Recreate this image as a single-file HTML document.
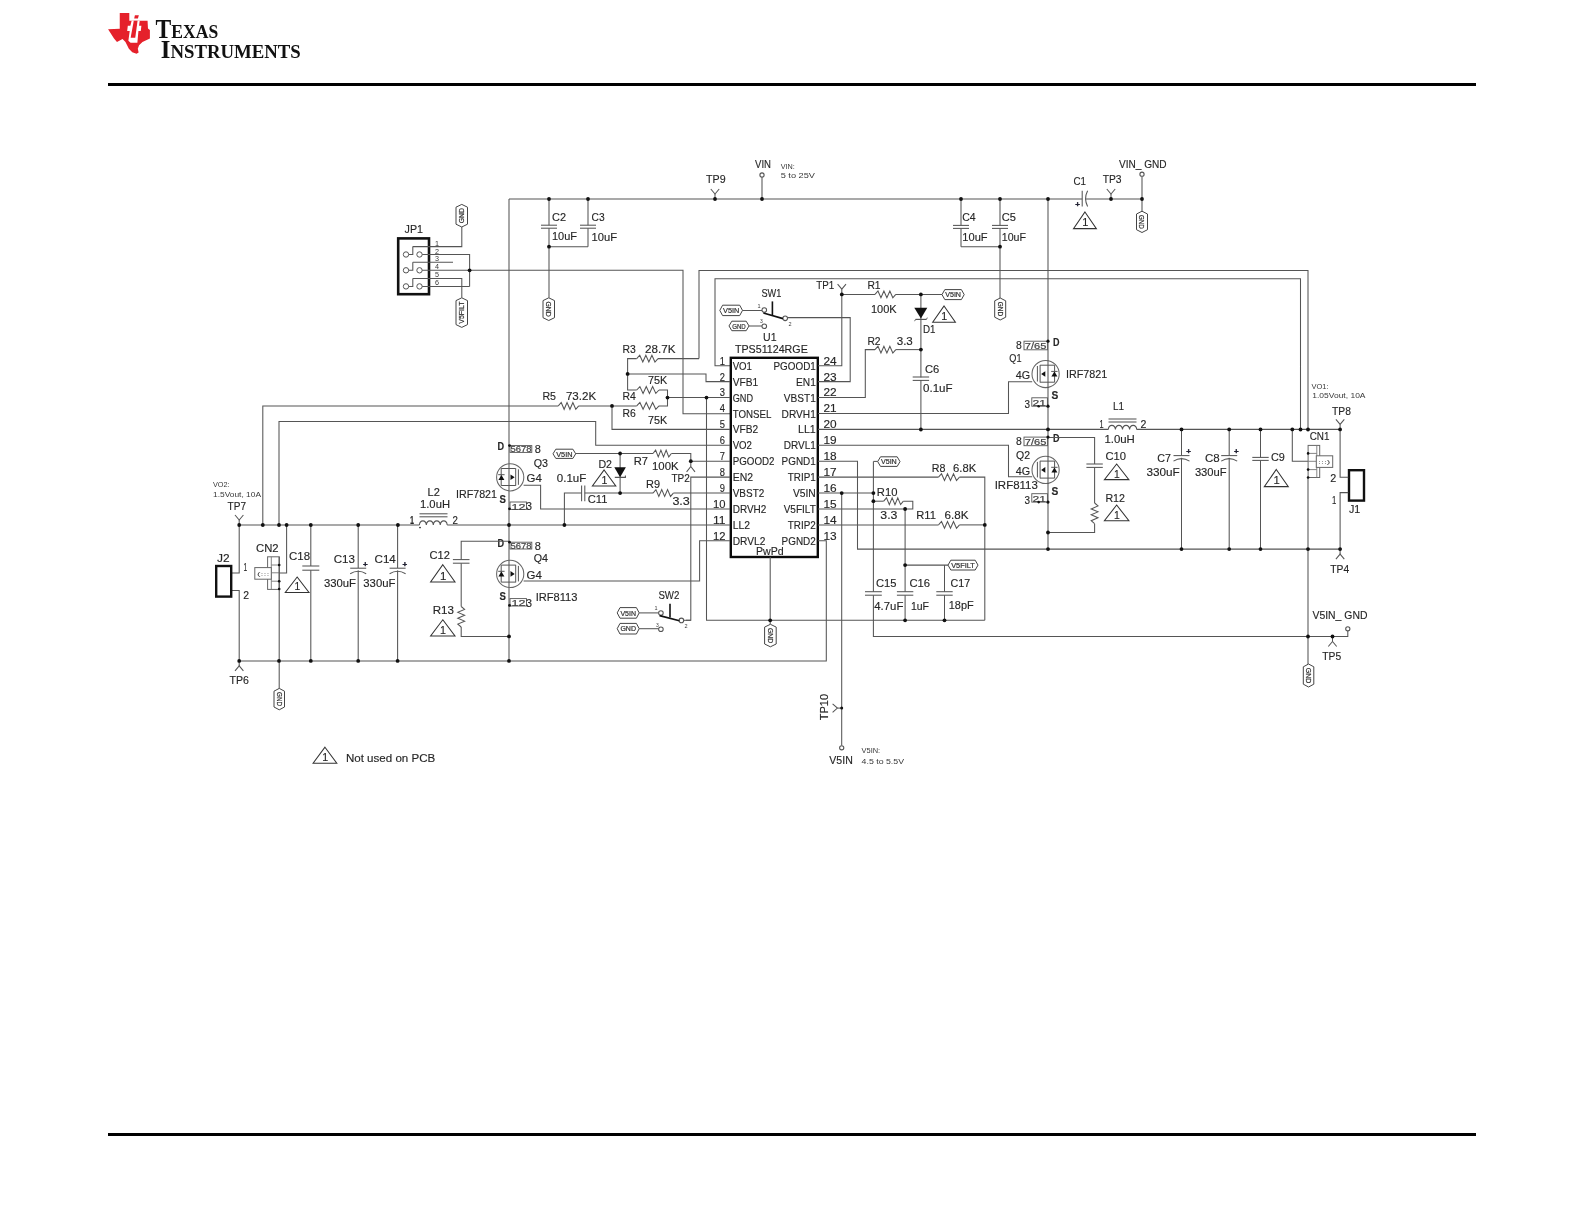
<!DOCTYPE html>
<html><head><meta charset="utf-8"><title>Schematic</title><style>
html,body{margin:0;padding:0;background:#fff;}
body{width:1585px;height:1225px;overflow:hidden;position:relative;}
svg{position:absolute;left:0;top:0;will-change:transform;}
.w polyline,.w path,.w circle,.w rect,.w line{stroke:#555555;stroke-width:1.05;fill:none;stroke-linejoin:miter;stroke-linecap:butt;}
.w circle.d{fill:#111;stroke:none;}
.w path.f{fill:#111;stroke:none;}
.w path.hx{stroke:#444;stroke-width:1;fill:#fff;stroke-linejoin:round;}
.w path.tr{stroke:#333;stroke-width:1.05;fill:none;}
text{font-family:"Liberation Sans",sans-serif;fill:#262626;stroke:none;}
text.t{font-family:"Liberation Sans",sans-serif;stroke:#262626;stroke-width:0.14;}
text.s{font-family:"Liberation Sans",sans-serif;fill:#383838;}
text.hxt{fill:#333;stroke:#333;stroke-width:0.22;}
text.pb{fill:#444;stroke:#444;stroke-width:0.2;}
text.pl{font-size:8px;font-weight:bold;fill:#223;stroke:#223;stroke-width:0.4;}
text.ti{font-family:"Liberation Serif",serif;font-weight:bold;fill:#111;}
</style></head>
<body><svg width="1585" height="1225" viewBox="0 0 1585 1225">
<rect x="108" y="83" width="1368" height="3" fill="#000"/>
<rect x="108" y="1133" width="1368" height="3" fill="#000"/>
<path d="M119.75,13.1 L129.3,13.1 L129.3,20.74 L147.56,20.74 L147.98,28.38 L149.89,30.08 L149.89,38.57 L142.46,41.97 L139.07,45.37 L137.79,48.76 L138.64,52.59 L136.52,53.86 L132.27,52.16 L128.87,48.76 L125.48,41.97 L122.51,39 L116.99,41.97 L114.01,38.57 L108.07,29.23 L119.75,28.81 Z" fill="#e5212b" stroke="none"/>
<path d="M131.63,20.74 L139.7,20.74 L139.07,25.83 L141.4,25.83 L140.76,30.93 L138.43,30.93 L137.37,42.82 L130.57,42.82 L128.37,40.7 L129.72,30.93 L127.18,30.93 L127.81,25.83 L130.36,25.83 Z" fill="#fff" stroke="none"/>
<path d="M133.76,20.74 L137.58,20.74 L135.24,37.72 L130.66,37.72 Z" fill="#e5212b" stroke="none"/>
<path d="M134.9,15.22 L138.85,15.22 L137.92,18.62 L134.18,18.62 Z" fill="#e5212b" stroke="none"/>
<text class="ti" x="155.6" y="38" font-size="26.6" textLength="62.6" lengthAdjust="spacingAndGlyphs">T<tspan font-size="19.8">EXAS</tspan></text>
<text class="ti" x="160.8" y="57.8" font-size="26" textLength="140" lengthAdjust="spacingAndGlyphs">I<tspan font-size="19.8">NSTRUMENTS</tspan></text>
<g class="w">
<polyline points="509,199 1082.2,199"/>
<polyline points="1085.6,199 1142,199"/>
<polyline points="710.8,189 715,194 719.2,189"/>
<polyline points="715,194 715,199"/>
<polyline points="1106.8,189 1111,194 1115.2,189"/>
<polyline points="1111,194 1111,199"/>
<polyline points="762,177.2 762,199"/>
<circle cx="762" cy="175" r="2.1" style="fill:#fff;stroke-width:1.1"/>
<polyline points="1142,176.4 1142,211"/>
<circle cx="1142" cy="174.2" r="2.1" style="fill:#fff;stroke-width:1.1"/>
<path d="M1142,211.2 L1147.5,214 L1147.5,229.7 L1142,232.5 L1136.5,229.7 L1136.5,214 Z" class="hx"/>
<text class="hxt" x="1142" y="224.55" font-size="7.6" text-anchor="middle" textLength="13.9" lengthAdjust="spacingAndGlyphs" transform="rotate(90 1142 221.85)">GND</text>
<polyline points="1082.2,190.7 1082.2,206.5"/>
<path d="M1087.6,190.7 Q1083.6,198.6 1087.6,206.5" fill="none"/>
<text x="1075.3" y="206.5" class="pl">+</text>
<path d="M1084.95,212 L1096.4,228.6 L1073.5,228.6 Z" class="tr"/>
<text class="t" x="1085.25" y="226.44" font-size="10.96" text-anchor="middle">1</text>
<text class="t" x="1073.5" y="185.2" font-size="11" textLength="12.5" lengthAdjust="spacingAndGlyphs">C1</text>
<text class="t" x="1102.7" y="183.25" font-size="11" textLength="18.9" lengthAdjust="spacingAndGlyphs">TP3</text>
<text class="t" x="1119" y="167.9" font-size="11" textLength="47.6" lengthAdjust="spacingAndGlyphs">VIN_ GND</text>
<text class="t" x="706" y="183.45" font-size="11" textLength="19.6" lengthAdjust="spacingAndGlyphs">TP9</text>
<text class="t" x="755" y="167.95" font-size="11" textLength="16" lengthAdjust="spacingAndGlyphs">VIN</text>
<text class="s" x="780.7" y="168.5" font-size="8" textLength="14.1" lengthAdjust="spacingAndGlyphs">VIN:</text>
<text class="s" x="780.7" y="178.3" font-size="8" textLength="34.3" lengthAdjust="spacingAndGlyphs">5 to 25V</text>
<polyline points="549,199 549,225.2"/>
<polyline points="549,228.2 549,297.8"/>
<polyline points="541,225.2 557,225.2"/>
<polyline points="541,228.2 557,228.2"/>
<polyline points="588,199 588,225.2"/>
<polyline points="588,228.2 588,246.7"/>
<polyline points="580,225.2 596,225.2"/>
<polyline points="580,228.2 596,228.2"/>
<polyline points="549,246.7 588,246.7"/>
<path d="M548.75,297.8 L554.5,300.6 L554.5,317.7 L548.75,320.5 L543,317.7 L543,300.6 Z" class="hx"/>
<text class="hxt" x="548.75" y="311.85" font-size="7.6" text-anchor="middle" textLength="15.3" lengthAdjust="spacingAndGlyphs" transform="rotate(90 548.75 309.15)">GND</text>
<text class="t" x="552" y="220.65" font-size="11" textLength="14" lengthAdjust="spacingAndGlyphs">C2</text>
<text class="t" x="552" y="240.25" font-size="11" textLength="25" lengthAdjust="spacingAndGlyphs">10uF</text>
<text class="t" x="591.5" y="220.8" font-size="11" textLength="13.1" lengthAdjust="spacingAndGlyphs">C3</text>
<text class="t" x="591.5" y="241.35" font-size="11" textLength="25.5" lengthAdjust="spacingAndGlyphs">10uF</text>
<polyline points="961,199 961,225.4"/>
<polyline points="961,228.4 961,246.7"/>
<polyline points="953,225.4 969,225.4"/>
<polyline points="953,228.4 969,228.4"/>
<polyline points="1000,199 1000,225.4"/>
<polyline points="1000,228.4 1000,298"/>
<polyline points="992,225.4 1008,225.4"/>
<polyline points="992,228.4 1008,228.4"/>
<polyline points="961,246.7 1000,246.7"/>
<path d="M1000.2,298 L1005.7,300.8 L1005.7,317.2 L1000.2,320 L994.7,317.2 L994.7,300.8 Z" class="hx"/>
<text class="hxt" x="1000.2" y="311.7" font-size="7.6" text-anchor="middle" textLength="14.6" lengthAdjust="spacingAndGlyphs" transform="rotate(90 1000.2 309)">GND</text>
<text class="t" x="962.3" y="220.7" font-size="11" textLength="13.4" lengthAdjust="spacingAndGlyphs">C4</text>
<text class="t" x="962.3" y="241.15" font-size="11" textLength="25.3" lengthAdjust="spacingAndGlyphs">10uF</text>
<text class="t" x="1001.8" y="220.7" font-size="11" textLength="14.2" lengthAdjust="spacingAndGlyphs">C5</text>
<text class="t" x="1001.8" y="241.15" font-size="11" textLength="24.2" lengthAdjust="spacingAndGlyphs">10uF</text>
<rect x="398.2" y="238.4" width="30.8" height="55.8" style="fill:none;stroke:#111;stroke-width:2.6"/>
<text class="t" x="404.6" y="233.15" font-size="11" textLength="18.4" lengthAdjust="spacingAndGlyphs">JP1</text>
<circle cx="406" cy="254.5" r="2.7" style="fill:#fff;stroke-width:1"/>
<circle cx="419.5" cy="254.5" r="2.7" style="fill:#fff;stroke-width:1"/>
<polyline points="408.7,254.5 412.8,254.5 412.8,246.5"/>
<circle cx="406" cy="270.3" r="2.7" style="fill:#fff;stroke-width:1"/>
<circle cx="419.5" cy="270.3" r="2.7" style="fill:#fff;stroke-width:1"/>
<polyline points="408.7,270.3 412.8,270.3 412.8,262.3"/>
<circle cx="406" cy="286.4" r="2.7" style="fill:#fff;stroke-width:1"/>
<circle cx="419.5" cy="286.4" r="2.7" style="fill:#fff;stroke-width:1"/>
<polyline points="408.7,286.4 412.8,286.4 412.8,278.4"/>
<polyline points="412.8,246.6 461.8,246.6 461.8,227"/>
<polyline points="422.2,254.5 469.6,254.5 469.6,286.4"/>
<polyline points="412.8,262.3 453,262.3"/>
<polyline points="422.2,270.3 683,270.3 683,413.7 730,413.7"/>
<polyline points="412.8,278.4 461.8,278.4 461.8,297.8"/>
<polyline points="422.2,286.4 469.6,286.4"/>
<text class="s" x="435" y="245.6" font-size="7.2">1</text>
<text class="s" x="435" y="253.5" font-size="7.2">2</text>
<text class="s" x="435" y="261.3" font-size="7.2">3</text>
<text class="s" x="435" y="269.3" font-size="7.2">4</text>
<text class="s" x="435" y="277.4" font-size="7.2">5</text>
<text class="s" x="435" y="285.4" font-size="7.2">6</text>
<path d="M461.75,204.4 L467.5,207.2 L467.5,224.2 L461.75,227 L456,224.2 L456,207.2 Z" class="hx"/>
<text class="hxt" x="461.75" y="218.4" font-size="7.6" text-anchor="middle" textLength="15.2" lengthAdjust="spacingAndGlyphs" transform="rotate(-90 461.75 215.7)">GND</text>
<path d="M461.75,297.8 L467.5,300.6 L467.5,324.6 L461.75,327.4 L456,324.6 L456,300.6 Z" class="hx"/>
<text class="hxt" x="461.75" y="315.3" font-size="7.6" text-anchor="middle" textLength="22.2" lengthAdjust="spacingAndGlyphs" transform="rotate(-90 461.75 312.6)">V5FILT</text>
<polyline points="509,199 509,660.9"/>
<polyline points="699,358.6 699,270.5 1308,270.5 1308,429.5"/>
<polyline points="1308,477.4 1308,664"/>
<polyline points="730,365.7 715,365.7 715,278.8 1300.5,278.8 1300.5,429.5"/>
<rect x="730.8" y="357.8" width="87" height="199.2" style="fill:none;stroke:#0a0a0a;stroke-width:2.4"/>
<text class="t" x="732.7" y="369.8" font-size="11" textLength="19.3" lengthAdjust="spacingAndGlyphs">VO1</text>
<text class="t" x="773.5" y="369.8" font-size="11" textLength="42.3" lengthAdjust="spacingAndGlyphs">PGOOD1</text>
<text class="t" x="719.8" y="364.6" font-size="11" textLength="5.2" lengthAdjust="spacingAndGlyphs">1</text>
<text class="t" x="823.5" y="364.6" font-size="11" textLength="13.2" lengthAdjust="spacingAndGlyphs">24</text>
<text class="t" x="732.7" y="385.72" font-size="11" textLength="25.5" lengthAdjust="spacingAndGlyphs">VFB1</text>
<text class="t" x="796" y="385.72" font-size="11" textLength="19.8" lengthAdjust="spacingAndGlyphs">EN1</text>
<text class="t" x="719.8" y="380.52" font-size="11" textLength="5.2" lengthAdjust="spacingAndGlyphs">2</text>
<text class="t" x="823.5" y="380.52" font-size="11" textLength="13.2" lengthAdjust="spacingAndGlyphs">23</text>
<text class="t" x="732.7" y="401.64" font-size="11" textLength="20.3" lengthAdjust="spacingAndGlyphs">GND</text>
<text class="t" x="783.7" y="401.64" font-size="11" textLength="32.1" lengthAdjust="spacingAndGlyphs">VBST1</text>
<text class="t" x="719.8" y="396.44" font-size="11" textLength="5.2" lengthAdjust="spacingAndGlyphs">3</text>
<text class="t" x="823.5" y="396.44" font-size="11" textLength="13.2" lengthAdjust="spacingAndGlyphs">22</text>
<text class="t" x="732.7" y="417.56" font-size="11" textLength="38.7" lengthAdjust="spacingAndGlyphs">TONSEL</text>
<text class="t" x="781.6" y="417.56" font-size="11" textLength="34.2" lengthAdjust="spacingAndGlyphs">DRVH1</text>
<text class="t" x="719.8" y="412.36" font-size="11" textLength="5.2" lengthAdjust="spacingAndGlyphs">4</text>
<text class="t" x="823.5" y="412.36" font-size="11" textLength="13.2" lengthAdjust="spacingAndGlyphs">21</text>
<text class="t" x="732.7" y="433.48" font-size="11" textLength="25.5" lengthAdjust="spacingAndGlyphs">VFB2</text>
<text class="t" x="798" y="433.48" font-size="11" textLength="17.8" lengthAdjust="spacingAndGlyphs">LL1</text>
<text class="t" x="719.8" y="428.28" font-size="11" textLength="5.2" lengthAdjust="spacingAndGlyphs">5</text>
<text class="t" x="823.5" y="428.28" font-size="11" textLength="13.2" lengthAdjust="spacingAndGlyphs">20</text>
<text class="t" x="732.7" y="449.4" font-size="11" textLength="19.3" lengthAdjust="spacingAndGlyphs">VO2</text>
<text class="t" x="783.7" y="449.4" font-size="11" textLength="32.1" lengthAdjust="spacingAndGlyphs">DRVL1</text>
<text class="t" x="719.8" y="444.2" font-size="11" textLength="5.2" lengthAdjust="spacingAndGlyphs">6</text>
<text class="t" x="823.5" y="444.2" font-size="11" textLength="13.2" lengthAdjust="spacingAndGlyphs">19</text>
<text class="t" x="732.7" y="465.32" font-size="11" textLength="41.8" lengthAdjust="spacingAndGlyphs">PGOOD2</text>
<text class="t" x="781.6" y="465.32" font-size="11" textLength="34.2" lengthAdjust="spacingAndGlyphs">PGND1</text>
<text class="t" x="719.8" y="460.12" font-size="11" textLength="5.2" lengthAdjust="spacingAndGlyphs">7</text>
<text class="t" x="823.5" y="460.12" font-size="11" textLength="13.2" lengthAdjust="spacingAndGlyphs">18</text>
<text class="t" x="732.7" y="481.24" font-size="11" textLength="20.3" lengthAdjust="spacingAndGlyphs">EN2</text>
<text class="t" x="787.8" y="481.24" font-size="11" textLength="28" lengthAdjust="spacingAndGlyphs">TRIP1</text>
<text class="t" x="719.8" y="476.04" font-size="11" textLength="5.2" lengthAdjust="spacingAndGlyphs">8</text>
<text class="t" x="823.5" y="476.04" font-size="11" textLength="13.2" lengthAdjust="spacingAndGlyphs">17</text>
<text class="t" x="732.7" y="497.16" font-size="11" textLength="31.6" lengthAdjust="spacingAndGlyphs">VBST2</text>
<text class="t" x="792.9" y="497.16" font-size="11" textLength="22.9" lengthAdjust="spacingAndGlyphs">V5IN</text>
<text class="t" x="719.8" y="491.96" font-size="11" textLength="5.2" lengthAdjust="spacingAndGlyphs">9</text>
<text class="t" x="823.5" y="491.96" font-size="11" textLength="13.2" lengthAdjust="spacingAndGlyphs">16</text>
<text class="t" x="732.7" y="513.08" font-size="11" textLength="33.6" lengthAdjust="spacingAndGlyphs">DRVH2</text>
<text class="t" x="783.7" y="513.08" font-size="11" textLength="32.1" lengthAdjust="spacingAndGlyphs">V5FILT</text>
<text class="t" x="713" y="507.88" font-size="11" textLength="12.5" lengthAdjust="spacingAndGlyphs">10</text>
<text class="t" x="823.5" y="507.88" font-size="11" textLength="13.2" lengthAdjust="spacingAndGlyphs">15</text>
<text class="t" x="732.7" y="529" font-size="11" textLength="17.3" lengthAdjust="spacingAndGlyphs">LL2</text>
<text class="t" x="787.8" y="529" font-size="11" textLength="28" lengthAdjust="spacingAndGlyphs">TRIP2</text>
<text class="t" x="713" y="523.8" font-size="11" textLength="12.5" lengthAdjust="spacingAndGlyphs">11</text>
<text class="t" x="823.5" y="523.8" font-size="11" textLength="13.2" lengthAdjust="spacingAndGlyphs">14</text>
<text class="t" x="732.7" y="544.92" font-size="11" textLength="32.6" lengthAdjust="spacingAndGlyphs">DRVL2</text>
<text class="t" x="781.6" y="544.92" font-size="11" textLength="34.2" lengthAdjust="spacingAndGlyphs">PGND2</text>
<text class="t" x="713" y="539.72" font-size="11" textLength="12.5" lengthAdjust="spacingAndGlyphs">12</text>
<text class="t" x="823.5" y="539.72" font-size="11" textLength="13.2" lengthAdjust="spacingAndGlyphs">13</text>
<text class="t" x="763" y="340.9" font-size="11" textLength="13.5" lengthAdjust="spacingAndGlyphs">U1</text>
<text class="t" x="734.9" y="353.25" font-size="11" textLength="72.9" lengthAdjust="spacingAndGlyphs">TPS51124RGE</text>
<text class="t" x="756" y="554.95" font-size="11" textLength="27.7" lengthAdjust="spacingAndGlyphs">PwPd</text>
<polyline points="699,358.6 658,358.6"/>
<polyline points="636.7,358.6 639.74,355.2 642.79,362 645.83,355.2 648.87,362 651.91,355.2 654.96,362 658,358.6"/>
<polyline points="636.7,358.6 627.6,358.6 627.6,390 636.7,390"/>
<polyline points="627.6,373.9 706,373.9 706,381.62 730,381.62"/>
<polyline points="636.7,390 639.89,386.6 643.07,393.4 646.26,386.6 649.44,393.4 652.63,386.6 655.81,393.4 659,390"/>
<polyline points="659,390 667.5,390 667.5,405.9 659,405.9"/>
<polyline points="667.5,397.54 730,397.54"/>
<polyline points="636.7,405.9 639.89,402.5 643.07,409.3 646.26,402.5 649.44,409.3 652.63,402.5 655.81,409.3 659,405.9"/>
<polyline points="262.8,525 262.8,405.9 558.3,405.9"/>
<polyline points="558.3,405.9 561.21,402.5 564.13,409.3 567.04,402.5 569.96,409.3 572.87,402.5 575.79,409.3 578.7,405.9"/>
<polyline points="578.7,405.9 636.7,405.9"/>
<polyline points="612,405.9 612,429.38 730,429.38"/>
<polyline points="279,525 279,421.5 595.7,421.5 595.7,445.3 730,445.3"/>
<polyline points="706.5,397.54 706.5,620.3 984.8,620.3"/>
<text class="t" x="622.4" y="352.9" font-size="11" textLength="13.3" lengthAdjust="spacingAndGlyphs">R3</text>
<text class="t" x="645" y="352.9" font-size="11" textLength="30.5" lengthAdjust="spacingAndGlyphs">28.7K</text>
<text class="t" x="648" y="383.95" font-size="11" textLength="19.3" lengthAdjust="spacingAndGlyphs">75K</text>
<text class="t" x="622.4" y="400.25" font-size="11" textLength="13.3" lengthAdjust="spacingAndGlyphs">R4</text>
<text class="t" x="622.4" y="416.6" font-size="11" textLength="13.3" lengthAdjust="spacingAndGlyphs">R6</text>
<text class="t" x="648" y="423.9" font-size="11" textLength="19.3" lengthAdjust="spacingAndGlyphs">75K</text>
<text class="t" x="542.4" y="399.8" font-size="11" textLength="13.6" lengthAdjust="spacingAndGlyphs">R5</text>
<text class="t" x="565.9" y="399.8" font-size="11" textLength="30.3" lengthAdjust="spacingAndGlyphs">73.2K</text>
<polyline points="730,461.22 690.8,461.22 690.8,453.5 671.4,453.5"/>
<polyline points="653,453.5 655.63,450.1 658.26,456.9 660.89,450.1 663.51,456.9 666.14,450.1 668.77,456.9 671.4,453.5"/>
<polyline points="653,453.5 575.7,453.5"/>
<path d="M553,453.8 L555.8,449.2 L572.9,449.2 L575.7,453.8 L572.9,458.4 L555.8,458.4 Z" class="hx"/>
<text class="hxt" x="556.2" y="456.5" font-size="7.4" textLength="16.3" lengthAdjust="spacingAndGlyphs">V5IN</text>
<polyline points="690.8,461.22 690.8,466.5"/>
<polyline points="686.6,471.8 690.8,466.5 695,471.8"/>
<polyline points="730,477.14 690.8,477.14 690.8,620.3 686,620.3"/>
<text class="t" x="633.7" y="464.55" font-size="11" textLength="14.3" lengthAdjust="spacingAndGlyphs">R7</text>
<text class="t" x="652" y="469.65" font-size="11" textLength="26.6" lengthAdjust="spacingAndGlyphs">100K</text>
<text class="t" x="671.4" y="481.9" font-size="11" textLength="18.4" lengthAdjust="spacingAndGlyphs">TP2</text>
<polyline points="620.1,453.5 620.1,493.06"/>
<path d="M614.3,467.2 L625.9,467.2 L620.1,477.2 Z" class="f"/>
<polyline points="614.8,477.4 625.4,477.4 625.4,475.6" style="stroke-width:1.1;"/>
<path d="M604.1,470 L615.8,486 L592.4,486 Z" class="tr"/>
<text class="t" x="604.4" y="483.92" font-size="10.56" text-anchor="middle">1</text>
<text class="t" x="598.4" y="467.65" font-size="11" textLength="13.6" lengthAdjust="spacingAndGlyphs">D2</text>
<polyline points="730,493.06 673.4,493.06"/>
<polyline points="653,493.06 655.91,489.66 658.83,496.46 661.74,489.66 664.66,496.46 667.57,489.66 670.49,496.46 673.4,493.06"/>
<polyline points="653,493.06 584.8,493.06"/>
<polyline points="584.8,485.6 584.8,501.2"/>
<polyline points="581.6,485.6 581.6,501.2"/>
<polyline points="581.6,493.06 564.4,493.06 564.4,525"/>
<text class="t" x="646" y="487.95" font-size="11" textLength="14" lengthAdjust="spacingAndGlyphs">R9</text>
<text class="t" x="672.4" y="505.45" font-size="11" textLength="17.4" lengthAdjust="spacingAndGlyphs">3.3</text>
<text class="t" x="556.8" y="481.85" font-size="11" textLength="29.5" lengthAdjust="spacingAndGlyphs">0.1uF</text>
<text class="t" x="587.8" y="503.25" font-size="11" textLength="19.7" lengthAdjust="spacingAndGlyphs">C11</text>
<polyline points="730,508.98 540.6,508.98 540.6,485.2 523.6,485.2"/>
<polyline points="239.2,525 419.4,525"/>
<polyline points="447.2,525 730,525"/>
<path d="M419.4,525 C419.9,519.5 425.85,519.5 426.35,525 C426.85,519.5 432.8,519.5 433.3,525 C433.8,519.5 439.75,519.5 440.25,525 C440.75,519.5 446.7,519.5 447.2,525" fill="none"/>
<polyline points="419.5,513.8 447.5,513.8"/>
<polyline points="419.5,516.8 447.5,516.8"/>
<circle class="d" cx="420" cy="527.6" r="0.8"/>
<text class="t" x="427.5" y="496.05" font-size="11" textLength="12.3" lengthAdjust="spacingAndGlyphs">L2</text>
<text class="t" x="420" y="508.45" font-size="11" textLength="30" lengthAdjust="spacingAndGlyphs">1.0uH</text>
<text class="t" x="410" y="523.95" font-size="11" textLength="4" lengthAdjust="spacingAndGlyphs" font-weight="bold">1</text>
<text class="t" x="452.6" y="523.95" font-size="11" textLength="5.4" lengthAdjust="spacingAndGlyphs">2</text>
<polyline points="730,540.82 699.6,540.82 699.6,580.9 523.6,580.9"/>
<polyline points="818,540.82 826.3,540.82 826.3,660.9 239.2,660.9"/>
<circle cx="510.2" cy="477.3" r="13.6" style="fill:none;stroke-width:1.05;stroke:#666"/>
<polyline points="518.4,469.3 518.4,484.8" style="stroke-width:1;"/>
<polyline points="515.7,468.3 515.7,485.8" style="stroke-width:1;"/>
<polyline points="515.7,468.5 501.2,468.5 501.2,485.5 515.7,485.5" style="stroke-width:1;"/>
<path d="M514.7,477.3 L510.5,474.5 L510.5,480.1 Z" class="f"/>
<path d="M498.4,479.9 L504.4,479.9 L501.4,474.9 Z" class="f"/>
<polyline points="498.2,474.7 504.6,474.7" style="stroke-width:1;"/>
<rect x="510" y="445.6" width="21.8" height="6.8" style="fill:none;stroke:#555;stroke-width:0.9"/>
<text class="pb" x="510.6" y="452" font-size="8.4" textLength="21" lengthAdjust="spacingAndGlyphs">5678</text>
<rect x="510" y="502" width="16.5" height="7.4" style="fill:none;stroke:#555;stroke-width:0.9"/>
<text class="pb" x="511.5" y="509.5" font-size="8.4" textLength="14" lengthAdjust="spacingAndGlyphs">12</text>
<text class="t" x="497.6" y="450.25" font-size="11" textLength="6.6" lengthAdjust="spacingAndGlyphs" font-weight="bold">D</text>
<text class="t" x="534.7" y="452.9" font-size="11" textLength="6.1" lengthAdjust="spacingAndGlyphs">8</text>
<text class="t" x="526.5" y="482.05" font-size="11" textLength="15.3" lengthAdjust="spacingAndGlyphs">G4</text>
<text class="t" x="499.6" y="503.35" font-size="11" textLength="6.4" lengthAdjust="spacingAndGlyphs" font-weight="bold">S</text>
<text class="t" x="526" y="509.95" font-size="11" textLength="6" lengthAdjust="spacingAndGlyphs">3</text>
<circle cx="510.2" cy="573.9" r="13.6" style="fill:none;stroke-width:1.05;stroke:#666"/>
<polyline points="518.4,565.9 518.4,581.4" style="stroke-width:1;"/>
<polyline points="515.7,564.9 515.7,582.4" style="stroke-width:1;"/>
<polyline points="515.7,565.1 501.2,565.1 501.2,582.1 515.7,582.1" style="stroke-width:1;"/>
<path d="M514.7,573.9 L510.5,571.1 L510.5,576.7 Z" class="f"/>
<path d="M498.4,576.5 L504.4,576.5 L501.4,571.5 Z" class="f"/>
<polyline points="498.2,571.3 504.6,571.3" style="stroke-width:1;"/>
<rect x="510" y="542.2" width="21.8" height="6.8" style="fill:none;stroke:#555;stroke-width:0.9"/>
<text class="pb" x="510.6" y="548.6" font-size="8.4" textLength="21" lengthAdjust="spacingAndGlyphs">5678</text>
<rect x="510" y="598.6" width="16.5" height="7.4" style="fill:none;stroke:#555;stroke-width:0.9"/>
<text class="pb" x="511.5" y="606.1" font-size="8.4" textLength="14" lengthAdjust="spacingAndGlyphs">12</text>
<text class="t" x="497.6" y="546.85" font-size="11" textLength="6.6" lengthAdjust="spacingAndGlyphs" font-weight="bold">D</text>
<text class="t" x="534.7" y="549.5" font-size="11" textLength="6.1" lengthAdjust="spacingAndGlyphs">8</text>
<text class="t" x="526.5" y="578.65" font-size="11" textLength="15.3" lengthAdjust="spacingAndGlyphs">G4</text>
<text class="t" x="499.6" y="599.95" font-size="11" textLength="6.4" lengthAdjust="spacingAndGlyphs" font-weight="bold">S</text>
<text class="t" x="526" y="606.55" font-size="11" textLength="6" lengthAdjust="spacingAndGlyphs">3</text>
<text class="t" x="533.7" y="466.6" font-size="11" textLength="14.3" lengthAdjust="spacingAndGlyphs">Q3</text>
<text class="t" x="533.7" y="562.05" font-size="11" textLength="14.3" lengthAdjust="spacingAndGlyphs">Q4</text>
<text class="t" x="456" y="498.25" font-size="11" textLength="41" lengthAdjust="spacingAndGlyphs">IRF7821</text>
<text class="t" x="535.7" y="601.25" font-size="11" textLength="41.8" lengthAdjust="spacingAndGlyphs">IRF8113</text>
<polyline points="509,541.2 461.2,541.2 461.2,559.6"/>
<polyline points="452.9,559.6 469.5,559.6"/>
<polyline points="452.9,563.2 469.5,563.2"/>
<polyline points="461.2,563.2 461.2,606.5"/>
<polyline points="461.2,606.5 464.6,609.43 457.8,612.36 464.6,615.29 457.8,618.21 464.6,621.14 457.8,624.07 461.2,627"/>
<polyline points="461.2,627 461.2,636.4 509,636.4"/>
<text class="t" x="429.6" y="558.55" font-size="11" textLength="20.4" lengthAdjust="spacingAndGlyphs">C12</text>
<path d="M442.8,564.7 L455,582 L430.6,582 Z" class="tr"/>
<text class="t" x="443.1" y="579.75" font-size="11.42" text-anchor="middle">1</text>
<text class="t" x="432.7" y="614.15" font-size="11" textLength="21.3" lengthAdjust="spacingAndGlyphs">R13</text>
<path d="M442.8,619.8 L455,636 L430.6,636 Z" class="tr"/>
<text class="t" x="443.1" y="633.89" font-size="10.69" text-anchor="middle">1</text>
<text class="s" x="213" y="486.9" font-size="8" textLength="16.6" lengthAdjust="spacingAndGlyphs">VO2:</text>
<text class="s" x="213" y="497.2" font-size="8" textLength="48" lengthAdjust="spacingAndGlyphs">1.5Vout, 10A</text>
<text class="t" x="227.5" y="510.15" font-size="11" textLength="18.5" lengthAdjust="spacingAndGlyphs">TP7</text>
<polyline points="235,515 239.2,520 243.4,515"/>
<polyline points="239.2,520 239.2,525"/>
<polyline points="239.2,525 239.2,573 232,573"/>
<polyline points="232,590.4 239.2,590.4 239.2,660.9"/>
<polyline points="235,670.9 239.2,665.9 243.4,670.9"/>
<polyline points="239.2,665.9 239.2,660.9"/>
<text class="t" x="229.6" y="684.05" font-size="11" textLength="19.4" lengthAdjust="spacingAndGlyphs">TP6</text>
<rect x="216.2" y="566" width="15" height="30.6" style="fill:none;stroke:#111;stroke-width:2.4"/>
<text class="t" x="217" y="561.75" font-size="11" textLength="12.6" lengthAdjust="spacingAndGlyphs">J2</text>
<text class="t" x="243.5" y="571.05" font-size="11" textLength="3.7" lengthAdjust="spacingAndGlyphs">1</text>
<text class="t" x="243.2" y="598.55" font-size="11" textLength="5.8" lengthAdjust="spacingAndGlyphs">2</text>
<text class="t" x="256" y="551.55" font-size="11" textLength="22.6" lengthAdjust="spacingAndGlyphs">CN2</text>
<rect x="267.6" y="556.8" width="11.6" height="32.6" style="fill:none;stroke:#666;stroke-width:1"/>
<polyline points="271.3,556.8 271.3,589.4" style="stroke:#777;stroke-width:0.9;"/>
<polyline points="271.3,565 279.2,565" style="stroke:#777;stroke-width:0.9;"/>
<polyline points="271.3,572.8 279.2,572.8" style="stroke:#777;stroke-width:0.9;"/>
<polyline points="271.3,581.2 279.2,581.2" style="stroke:#777;stroke-width:0.9;"/>
<rect x="254.8" y="567.6" width="16.5" height="11.6" style="fill:#fff;stroke:#666;stroke-width:1"/>
<text class="s" x="257" y="575.6" font-size="5.4" textLength="12.4" lengthAdjust="spacingAndGlyphs">(:::</text>
<polyline points="279.2,556.8 279.2,688.4"/>
<polyline points="286.6,525 286.6,573 279.2,573"/>
<path d="M279.25,688.4 L284.5,691.2 L284.5,707 L279.25,709.8 L274,707 L274,691.2 Z" class="hx"/>
<text class="hxt" x="279.25" y="701.8" font-size="7.6" text-anchor="middle" textLength="14" lengthAdjust="spacingAndGlyphs" transform="rotate(90 279.25 699.1)">GND</text>
<polyline points="310.8,525 310.8,566"/>
<polyline points="302.3,566 319.3,566"/>
<polyline points="302.3,570.2 319.3,570.2"/>
<polyline points="310.8,570.2 310.8,660.9"/>
<text class="t" x="289" y="559.75" font-size="11" textLength="21" lengthAdjust="spacingAndGlyphs">C18</text>
<path d="M297.15,577 L309,592.4 L285.3,592.4 Z" class="tr"/>
<text class="t" x="297.45" y="590.4" font-size="10.16" text-anchor="middle">1</text>
<polyline points="358.2,525 358.2,568"/>
<polyline points="358.2,570.6 358.2,660.9"/>
<polyline points="350.2,568.2 366.2,568.2"/>
<path d="M350.2,573.7 Q358.2,568.7 366.2,573.7" fill="none"/>
<text x="363" y="567" class="pl">+</text>
<text class="t" x="333.7" y="563.3" font-size="11" textLength="21.3" lengthAdjust="spacingAndGlyphs">C13</text>
<text class="t" x="323.9" y="587.05" font-size="11" textLength="32.1" lengthAdjust="spacingAndGlyphs">330uF</text>
<polyline points="397.6,525 397.6,568"/>
<polyline points="397.6,570.6 397.6,660.9"/>
<polyline points="389.6,568.2 405.6,568.2"/>
<path d="M389.6,573.7 Q397.6,568.7 405.6,573.7" fill="none"/>
<text x="402.4" y="567" class="pl">+</text>
<text class="t" x="374.5" y="563.3" font-size="11" textLength="21.3" lengthAdjust="spacingAndGlyphs">C14</text>
<text class="t" x="363.3" y="587.05" font-size="11" textLength="32.1" lengthAdjust="spacingAndGlyphs">330uF</text>
<text class="t" x="761.4" y="296.85" font-size="11" textLength="19.9" lengthAdjust="spacingAndGlyphs">SW1</text>
<path d="M719.8,310.4 L722.6,305.2 L739.7,305.2 L742.5,310.4 L739.7,315.6 L722.6,315.6 Z" class="hx"/>
<text class="hxt" x="723" y="313.1" font-size="7.4" textLength="16.3" lengthAdjust="spacingAndGlyphs">V5IN</text>
<path d="M729,325.95 L731.8,321.2 L746.2,321.2 L749,325.95 L746.2,330.7 L731.8,330.7 Z" class="hx"/>
<text class="hxt" x="732.2" y="328.65" font-size="7.4" textLength="13.6" lengthAdjust="spacingAndGlyphs">GND</text>
<polyline points="742.5,310.5 762,310.5"/>
<polyline points="749,326 762,326"/>
<circle cx="764.3" cy="310" r="2.3" style="fill:#fff;stroke-width:1.05"/>
<circle cx="764.3" cy="326.2" r="2.3" style="fill:#fff;stroke-width:1.05"/>
<circle cx="785.2" cy="318.3" r="2.3" style="fill:#fff;stroke-width:1.05"/>
<polyline points="763.4,313 783,318.6" style="stroke:#111;stroke-width:1.7;"/>
<polyline points="772.4,301.4 772.4,315" style="stroke:#111;stroke-width:1.6;"/>
<text class="s" x="757.5" y="307.8" font-size="5.5">1</text>
<text class="s" x="788.6" y="325.6" font-size="5.5">2</text>
<text class="s" x="760" y="323.4" font-size="5">3</text>
<polyline points="787.6,317.6 850.2,317.6 850.2,381.62 818,381.62"/>
<text class="t" x="658.4" y="598.75" font-size="11" textLength="21" lengthAdjust="spacingAndGlyphs">SW2</text>
<path d="M617.2,612.9 L620,607.6 L636.4,607.6 L639.2,612.9 L636.4,618.2 L620,618.2 Z" class="hx"/>
<text class="hxt" x="620.4" y="615.6" font-size="7.4" textLength="15.6" lengthAdjust="spacingAndGlyphs">V5IN</text>
<path d="M617.2,628.7 L620,623.4 L636.4,623.4 L639.2,628.7 L636.4,634 L620,634 Z" class="hx"/>
<text class="hxt" x="620.4" y="631.4" font-size="7.4" textLength="15.6" lengthAdjust="spacingAndGlyphs">GND</text>
<polyline points="639.2,612.9 658.5,612.9"/>
<polyline points="639.2,628.7 658.5,628.7"/>
<circle cx="660.9" cy="613" r="2.3" style="fill:#fff;stroke-width:1.05"/>
<circle cx="660.9" cy="629.2" r="2.3" style="fill:#fff;stroke-width:1.05"/>
<circle cx="681.4" cy="620.4" r="2.3" style="fill:#fff;stroke-width:1.05"/>
<polyline points="659.6,615.6 679.4,620.8" style="stroke:#111;stroke-width:1.7;"/>
<polyline points="670,603.8 670,617.6" style="stroke:#111;stroke-width:1.6;"/>
<text class="s" x="654.6" y="610.4" font-size="5.5">1</text>
<text class="s" x="684.4" y="627.5" font-size="5.5">2</text>
<text class="s" x="656" y="626.5" font-size="5">3</text>
<polyline points="683.8,620.3 690.8,620.3"/>
<polyline points="770.2,557 770.2,624.3"/>
<path d="M770.4,624.3 L776.2,627.1 L776.2,644 L770.4,646.8 L764.6,644 L764.6,627.1 Z" class="hx"/>
<text class="hxt" x="770.4" y="638.25" font-size="7.6" text-anchor="middle" textLength="15.1" lengthAdjust="spacingAndGlyphs" transform="rotate(90 770.4 635.55)">GND</text>
<path d="M324.95,747.2 L336.8,763.3 L313.1,763.3 Z" class="tr"/>
<text class="t" x="325.25" y="761.21" font-size="10.63" text-anchor="middle">1</text>
<text class="t" x="345.9" y="762" font-size="10.6" textLength="89.4" lengthAdjust="spacingAndGlyphs">Not used on PCB</text>
<polyline points="818,365.7 841.8,365.7 841.8,294.4 875,294.4"/>
<polyline points="875,294.4 877.97,291 880.94,297.8 883.91,291 886.89,297.8 889.86,291 892.83,297.8 895.8,294.4"/>
<polyline points="895.8,294.4 942,294.4"/>
<path d="M942,294.6 L944.8,289.6 L961.4,289.6 L964.2,294.6 L961.4,299.6 L944.8,299.6 Z" class="hx"/>
<text class="hxt" x="945.2" y="297.3" font-size="7.4" textLength="15.8" lengthAdjust="spacingAndGlyphs">V5IN</text>
<polyline points="837.6,284.2 841.8,289.2 846,284.2"/>
<polyline points="841.8,289.2 841.8,294.4"/>
<text class="t" x="816.3" y="289.3" font-size="11" textLength="18" lengthAdjust="spacingAndGlyphs">TP1</text>
<text class="t" x="867.4" y="289.05" font-size="11" textLength="13.2" lengthAdjust="spacingAndGlyphs">R1</text>
<text class="t" x="871" y="312.75" font-size="11" textLength="25.7" lengthAdjust="spacingAndGlyphs">100K</text>
<polyline points="920.9,294.4 920.9,429.5"/>
<path d="M914.3,307.8 L927.3,307.8 L920.9,318.6 Z" class="f"/>
<polyline points="915.5,319.4 926.5,319.4" style="stroke-width:1.2;"/>
<polyline points="915.5,319.4 914.6,321.2" style="stroke-width:0.9;"/>
<polyline points="926.5,319.4 927.3,317.6" style="stroke-width:0.9;"/>
<path d="M944.05,306 L955.4,322.2 L932.7,322.2 Z" class="tr"/>
<text class="t" x="944.35" y="320.09" font-size="10.69" text-anchor="middle">1</text>
<text class="t" x="923" y="332.75" font-size="11" textLength="12.5" lengthAdjust="spacingAndGlyphs">D1</text>
<polyline points="818,397.54 865.3,397.54 865.3,349.6 875,349.6"/>
<polyline points="875,349.6 877.97,346.2 880.94,353 883.91,346.2 886.89,353 889.86,346.2 892.83,353 895.8,349.6"/>
<polyline points="895.8,349.6 920.9,349.6"/>
<text class="t" x="867.4" y="344.65" font-size="11" textLength="13.2" lengthAdjust="spacingAndGlyphs">R2</text>
<text class="t" x="896.7" y="344.65" font-size="11" textLength="16.1" lengthAdjust="spacingAndGlyphs">3.3</text>
<rect x="916" y="377.4" width="10" height="2.6" style="fill:#fff;stroke:none"/>
<polyline points="912.7,377 929.1,377"/>
<polyline points="912.7,380.4 929.1,380.4"/>
<text class="t" x="925" y="372.55" font-size="11" textLength="14.3" lengthAdjust="spacingAndGlyphs">C6</text>
<text class="t" x="923" y="392.05" font-size="11" textLength="29.6" lengthAdjust="spacingAndGlyphs">0.1uF</text>
<polyline points="818,413.46 1008.5,413.46 1008.5,381.7 1032.2,381.7"/>
<polyline points="818,429.38 1108.3,429.38"/>
<polyline points="1136.7,429.38 1340.1,429.38"/>
<polyline points="818,445.3 1008.5,445.3 1008.5,476.8 1032.2,476.8"/>
<polyline points="818,461.22 857.5,461.22 857.5,549.1 1340.1,549.1"/>
<polyline points="818,477.14 938.5,477.14"/>
<polyline points="938.5,477.14 941.5,473.74 944.5,480.54 947.5,473.74 950.5,480.54 953.5,473.74 956.5,480.54 959.5,477.14"/>
<polyline points="959.5,477.14 984.8,477.14 984.8,620.3"/>
<text class="t" x="931.7" y="471.8" font-size="11" textLength="13.7" lengthAdjust="spacingAndGlyphs">R8</text>
<text class="t" x="953" y="471.8" font-size="11" textLength="23.2" lengthAdjust="spacingAndGlyphs">6.8K</text>
<polyline points="818,493.06 873.4,493.06"/>
<polyline points="841.7,493.06 841.7,745.6"/>
<circle cx="841.7" cy="747.8" r="2.1" style="fill:#fff;stroke-width:1.1"/>
<polyline points="832.6,703.8 837.4,708.1 832.6,712.4"/>
<polyline points="837.4,708.1 841.7,708.1"/>
<text class="t" x="0" y="0" font-size="11" textLength="26.5" lengthAdjust="spacingAndGlyphs" transform="translate(828.2 720.3) rotate(-90)">TP10</text>
<text class="t" x="829.3" y="763.95" font-size="11" textLength="23.5" lengthAdjust="spacingAndGlyphs">V5IN</text>
<text class="s" x="861.6" y="753.3" font-size="8" textLength="18.6" lengthAdjust="spacingAndGlyphs">V5IN:</text>
<text class="s" x="861.6" y="763.9" font-size="8" textLength="42.4" lengthAdjust="spacingAndGlyphs">4.5 to 5.5V</text>
<polyline points="873.4,461.4 877.7,461.4"/>
<path d="M877.7,461.6 L880.5,456.8 L897.2,456.8 L900,461.6 L897.2,466.4 L880.5,466.4 Z" class="hx"/>
<text class="hxt" x="880.9" y="464.3" font-size="7.4" textLength="15.9" lengthAdjust="spacingAndGlyphs">V5IN</text>
<polyline points="873.4,461.4 873.4,591.7"/>
<polyline points="873.4,595.2 873.4,636.5 1347.8,636.5 1347.8,631"/>
<circle cx="1347.8" cy="628.8" r="2.1" style="fill:#fff;stroke-width:1.1"/>
<polyline points="865,591.7 881.8,591.7"/>
<polyline points="865,595.2 881.8,595.2"/>
<text class="t" x="876" y="586.95" font-size="11" textLength="20.5" lengthAdjust="spacingAndGlyphs">C15</text>
<text class="t" x="874.3" y="609.65" font-size="11" textLength="29.1" lengthAdjust="spacingAndGlyphs">4.7uF</text>
<polyline points="873.4,501.2 883.7,501.2"/>
<polyline points="883.7,501.2 886.51,497.8 889.33,504.6 892.14,497.8 894.96,504.6 897.77,497.8 900.59,504.6 903.4,501.2"/>
<polyline points="903.4,501.2 912.8,501.2 912.8,508.98 905.1,508.98"/>
<text class="t" x="876.8" y="495.95" font-size="11" textLength="20.6" lengthAdjust="spacingAndGlyphs">R10</text>
<text class="t" x="880.3" y="519.45" font-size="11" textLength="17.1" lengthAdjust="spacingAndGlyphs">3.3</text>
<polyline points="818,508.98 905.1,508.98"/>
<polyline points="905.1,508.98 905.1,591.7"/>
<polyline points="905.1,595.2 905.1,620.3"/>
<polyline points="896.9,591.7 913.3,591.7"/>
<polyline points="896.9,595.2 913.3,595.2"/>
<polyline points="905.1,565.1 948,565.1"/>
<path d="M948,565.1 L950.8,560.2 L975.2,560.2 L978,565.1 L975.2,570 L950.8,570 Z" class="hx"/>
<text class="hxt" x="951.2" y="567.8" font-size="7.4" textLength="23.6" lengthAdjust="spacingAndGlyphs">V5FILT</text>
<text class="t" x="909.4" y="586.95" font-size="11" textLength="20.6" lengthAdjust="spacingAndGlyphs">C16</text>
<text class="t" x="911" y="609.65" font-size="11" textLength="18" lengthAdjust="spacingAndGlyphs">1uF</text>
<polyline points="944.5,565.1 944.5,591.7"/>
<polyline points="944.5,595.2 944.5,620.3"/>
<polyline points="936.3,591.7 952.7,591.7"/>
<polyline points="936.3,595.2 952.7,595.2"/>
<text class="t" x="950.5" y="586.95" font-size="11" textLength="19.7" lengthAdjust="spacingAndGlyphs">C17</text>
<text class="t" x="948.8" y="609.25" font-size="11" textLength="24.9" lengthAdjust="spacingAndGlyphs">18pF</text>
<polyline points="818,524.9 938.5,524.9"/>
<polyline points="938.5,524.9 941.5,521.5 944.5,528.3 947.5,521.5 950.5,528.3 953.5,521.5 956.5,528.3 959.5,524.9"/>
<polyline points="959.5,524.9 984.8,524.9"/>
<text class="t" x="916.3" y="519.45" font-size="11" textLength="19.7" lengthAdjust="spacingAndGlyphs">R11</text>
<text class="t" x="944.5" y="519.45" font-size="11" textLength="24" lengthAdjust="spacingAndGlyphs">6.8K</text>
<circle cx="1045.6" cy="374" r="13.6" style="fill:none;stroke-width:1.05;stroke:#666"/>
<polyline points="1037.4,366 1037.4,381.5" style="stroke-width:1;"/>
<polyline points="1040.1,365 1040.1,382.5" style="stroke-width:1;"/>
<polyline points="1040.1,365.2 1054.6,365.2 1054.6,382.2 1040.1,382.2" style="stroke-width:1;"/>
<path d="M1041.1,374 L1045.3,371.2 L1045.3,376.8 Z" class="f"/>
<path d="M1051.4,376.6 L1057.4,376.6 L1054.4,371.6 Z" class="f"/>
<polyline points="1051.2,371.4 1057.6,371.4" style="stroke-width:1;"/>
<rect x="1024" y="341.2" width="23.4" height="8.6" style="fill:none;stroke:#555;stroke-width:0.9"/>
<text class="pb" x="1024.8" y="349" font-size="8.6" textLength="21.6" lengthAdjust="spacingAndGlyphs">7/65</text>
<rect x="1031.8" y="397.8" width="15.6" height="8.4" style="fill:none;stroke:#555;stroke-width:0.9"/>
<text class="pb" x="1032.6" y="405.6" font-size="8.6" textLength="13.5" lengthAdjust="spacingAndGlyphs">21</text>
<text class="t" x="1016" y="348.65" font-size="11" textLength="5.8" lengthAdjust="spacingAndGlyphs">8</text>
<text class="t" x="1053" y="346.35" font-size="11" textLength="6.5" lengthAdjust="spacingAndGlyphs" font-weight="bold">D</text>
<text class="t" x="1015.7" y="379.05" font-size="11" textLength="14.4" lengthAdjust="spacingAndGlyphs">4G</text>
<text class="t" x="1051.5" y="399.35" font-size="11" textLength="6.8" lengthAdjust="spacingAndGlyphs" font-weight="bold">S</text>
<text class="t" x="1024.6" y="407.85" font-size="11" textLength="5.5" lengthAdjust="spacingAndGlyphs">3</text>
<circle cx="1045.6" cy="469.9" r="13.6" style="fill:none;stroke-width:1.05;stroke:#666"/>
<polyline points="1037.4,461.9 1037.4,477.4" style="stroke-width:1;"/>
<polyline points="1040.1,460.9 1040.1,478.4" style="stroke-width:1;"/>
<polyline points="1040.1,461.1 1054.6,461.1 1054.6,478.1 1040.1,478.1" style="stroke-width:1;"/>
<path d="M1041.1,469.9 L1045.3,467.1 L1045.3,472.7 Z" class="f"/>
<path d="M1051.4,472.5 L1057.4,472.5 L1054.4,467.5 Z" class="f"/>
<polyline points="1051.2,467.3 1057.6,467.3" style="stroke-width:1;"/>
<rect x="1024" y="437.1" width="23.4" height="8.6" style="fill:none;stroke:#555;stroke-width:0.9"/>
<text class="pb" x="1024.8" y="444.9" font-size="8.6" textLength="21.6" lengthAdjust="spacingAndGlyphs">7/65</text>
<rect x="1031.8" y="493.7" width="15.6" height="8.4" style="fill:none;stroke:#555;stroke-width:0.9"/>
<text class="pb" x="1032.6" y="501.5" font-size="8.6" textLength="13.5" lengthAdjust="spacingAndGlyphs">21</text>
<text class="t" x="1016" y="444.55" font-size="11" textLength="5.8" lengthAdjust="spacingAndGlyphs">8</text>
<text class="t" x="1053" y="442.25" font-size="11" textLength="6.5" lengthAdjust="spacingAndGlyphs" font-weight="bold">D</text>
<text class="t" x="1015.7" y="474.95" font-size="11" textLength="14.4" lengthAdjust="spacingAndGlyphs">4G</text>
<text class="t" x="1051.5" y="495.25" font-size="11" textLength="6.8" lengthAdjust="spacingAndGlyphs" font-weight="bold">S</text>
<text class="t" x="1024.6" y="503.75" font-size="11" textLength="5.5" lengthAdjust="spacingAndGlyphs">3</text>
<text class="t" x="1009.3" y="362.25" font-size="11" textLength="12.2" lengthAdjust="spacingAndGlyphs">Q1</text>
<text class="t" x="1066" y="378.45" font-size="11" textLength="41.3" lengthAdjust="spacingAndGlyphs">IRF7821</text>
<text class="t" x="1016" y="458.65" font-size="11" textLength="14" lengthAdjust="spacingAndGlyphs">Q2</text>
<text class="t" x="994.7" y="488.85" font-size="11" textLength="43.1" lengthAdjust="spacingAndGlyphs">IRF8113</text>
<polyline points="1048,199 1048,549.1"/>
<polyline points="1048,437.5 1094.6,437.5 1094.6,464"/>
<polyline points="1086.4,464 1102.8,464"/>
<polyline points="1086.4,467.4 1102.8,467.4"/>
<polyline points="1094.6,467.4 1094.6,503"/>
<polyline points="1094.6,503 1098,505.96 1091.2,508.91 1098,511.87 1091.2,514.83 1098,517.79 1091.2,520.74 1094.6,523.7"/>
<polyline points="1094.6,523.7 1094.6,532.5 1048,532.5"/>
<text class="t" x="1105.4" y="459.55" font-size="11" textLength="20.6" lengthAdjust="spacingAndGlyphs">C10</text>
<path d="M1116.65,464 L1128.9,479.6 L1104.4,479.6 Z" class="tr"/>
<text class="t" x="1116.95" y="477.57" font-size="10.3" text-anchor="middle">1</text>
<text class="t" x="1105.4" y="501.75" font-size="11" textLength="19.6" lengthAdjust="spacingAndGlyphs">R12</text>
<path d="M1116.65,505 L1128.9,520.8 L1104.4,520.8 Z" class="tr"/>
<text class="t" x="1116.95" y="518.75" font-size="10.43" text-anchor="middle">1</text>
<path d="M1108.3,429.5 C1108.8,424 1114.9,424 1115.4,429.5 C1115.9,424 1122,424 1122.5,429.5 C1123,424 1129.1,424 1129.6,429.5 C1130.1,424 1136.2,424 1136.7,429.5" fill="none"/>
<polyline points="1108.5,419 1136.5,419"/>
<polyline points="1108.5,422 1136.5,422"/>
<text class="t" x="1113" y="410.25" font-size="11" textLength="11" lengthAdjust="spacingAndGlyphs">L1</text>
<text class="t" x="1099.5" y="427.85" font-size="11" textLength="4.1" lengthAdjust="spacingAndGlyphs">1</text>
<text class="t" x="1140.6" y="427.85" font-size="11" textLength="5.9" lengthAdjust="spacingAndGlyphs">2</text>
<text class="t" x="1104.4" y="442.55" font-size="11" textLength="30.4" lengthAdjust="spacingAndGlyphs">1.0uH</text>
<polyline points="1181.5,429.38 1181.5,455.4"/>
<polyline points="1181.5,457.8 1181.5,549.1"/>
<polyline points="1173.5,455.6 1189.5,455.6"/>
<path d="M1173.5,461.1 Q1181.5,456.1 1189.5,461.1" fill="none"/>
<text x="1186.3" y="454.4" class="pl">+</text>
<polyline points="1229.2,429.38 1229.2,455.4"/>
<polyline points="1229.2,457.8 1229.2,549.1"/>
<polyline points="1221.2,455.6 1237.2,455.6"/>
<path d="M1221.2,461.1 Q1229.2,456.1 1237.2,461.1" fill="none"/>
<text x="1234" y="454.4" class="pl">+</text>
<text class="t" x="1157.3" y="461.55" font-size="11" textLength="13.7" lengthAdjust="spacingAndGlyphs">C7</text>
<text class="t" x="1146.5" y="475.75" font-size="11" textLength="33.3" lengthAdjust="spacingAndGlyphs">330uF</text>
<text class="t" x="1205" y="462.25" font-size="11" textLength="14.7" lengthAdjust="spacingAndGlyphs">C8</text>
<text class="t" x="1194.9" y="475.95" font-size="11" textLength="31.7" lengthAdjust="spacingAndGlyphs">330uF</text>
<polyline points="1260.5,429.38 1260.5,457.4"/>
<polyline points="1260.5,460.4 1260.5,549.1"/>
<polyline points="1252.3,457.4 1268.7,457.4"/>
<polyline points="1252.3,460.4 1268.7,460.4"/>
<text class="t" x="1271" y="461.45" font-size="11" textLength="13.9" lengthAdjust="spacingAndGlyphs">C9</text>
<path d="M1276.3,469.5 L1288.3,486.6 L1264.3,486.6 Z" class="tr"/>
<text class="t" x="1276.6" y="484.38" font-size="11.29" text-anchor="middle">1</text>
<polyline points="1292.3,429.38 1292.3,461.3 1308.1,461.3"/>
<rect x="1308.1" y="445.4" width="11.6" height="32.1" style="fill:none;stroke:#666;stroke-width:1"/>
<polyline points="1316.8,445.4 1316.8,477.5" style="stroke:#777;stroke-width:0.9;"/>
<polyline points="1308.1,453.4 1316.8,453.4" style="stroke:#777;stroke-width:0.9;"/>
<polyline points="1308.1,461.3 1316.8,461.3" style="stroke:#777;stroke-width:0.9;"/>
<polyline points="1308.1,469.6 1316.8,469.6" style="stroke:#777;stroke-width:0.9;"/>
<rect x="1316.3" y="455.8" width="16.4" height="11.6" style="fill:#fff;stroke:#666;stroke-width:1"/>
<text class="s" x="1318" y="463.8" font-size="5.4" textLength="12.4" lengthAdjust="spacingAndGlyphs">:::)</text>
<text class="t" x="1309.7" y="439.95" font-size="11" textLength="19.8" lengthAdjust="spacingAndGlyphs">CN1</text>
<path d="M1308.55,664 L1313.8,666.8 L1313.8,684.2 L1308.55,687 L1303.3,684.2 L1303.3,666.8 Z" class="hx"/>
<text class="hxt" x="1308.55" y="678.2" font-size="7.6" text-anchor="middle" textLength="15.6" lengthAdjust="spacingAndGlyphs" transform="rotate(90 1308.55 675.5)">GND</text>
<rect x="1349" y="470.2" width="15" height="30.4" style="fill:none;stroke:#111;stroke-width:2.4"/>
<polyline points="1348.3,477.2 1340.1,477.2 1340.1,429.38"/>
<polyline points="1348.3,492.6 1340.1,492.6 1340.1,549.1"/>
<text class="t" x="1349" y="513.35" font-size="11" textLength="11.3" lengthAdjust="spacingAndGlyphs">J1</text>
<text class="t" x="1330.3" y="481.65" font-size="11" textLength="6" lengthAdjust="spacingAndGlyphs">2</text>
<text class="t" x="1332" y="503.65" font-size="11" textLength="4.3" lengthAdjust="spacingAndGlyphs">1</text>
<polyline points="1335.9,419.38 1340.1,424.38 1344.3,419.38"/>
<polyline points="1340.1,424.38 1340.1,429.38"/>
<text class="t" x="1332" y="414.65" font-size="11" textLength="18.9" lengthAdjust="spacingAndGlyphs">TP8</text>
<polyline points="1335.9,559.1 1340.1,554.1 1344.3,559.1"/>
<polyline points="1340.1,554.1 1340.1,549.1"/>
<text class="t" x="1330.3" y="572.85" font-size="11" textLength="18.9" lengthAdjust="spacingAndGlyphs">TP4</text>
<text class="s" x="1311.5" y="388.6" font-size="8" textLength="17.1" lengthAdjust="spacingAndGlyphs">VO1:</text>
<text class="s" x="1312.3" y="398" font-size="8" textLength="53.2" lengthAdjust="spacingAndGlyphs">1.05Vout, 10A</text>
<text class="t" x="1312.5" y="619.15" font-size="11" textLength="54.9" lengthAdjust="spacingAndGlyphs">V5IN_ GND</text>
<polyline points="1328.3,646.5 1332.5,641.5 1336.7,646.5"/>
<polyline points="1332.5,641.5 1332.5,636.5"/>
<text class="t" x="1322.3" y="660.45" font-size="11" textLength="18.9" lengthAdjust="spacingAndGlyphs">TP5</text>
<circle class="d" cx="549" cy="199" r="1.9"/>
<circle class="d" cx="588" cy="199" r="1.9"/>
<circle class="d" cx="715" cy="199" r="1.9"/>
<circle class="d" cx="762" cy="199" r="1.9"/>
<circle class="d" cx="961" cy="199" r="1.9"/>
<circle class="d" cx="1000" cy="199" r="1.9"/>
<circle class="d" cx="1048" cy="199" r="1.9"/>
<circle class="d" cx="1111" cy="199" r="1.9"/>
<circle class="d" cx="1142" cy="199" r="1.9"/>
<circle class="d" cx="549" cy="246.7" r="1.9"/>
<circle class="d" cx="1000" cy="246.7" r="1.9"/>
<circle class="d" cx="469.6" cy="270.3" r="1.9"/>
<circle class="d" cx="1300.5" cy="429.5" r="1.9"/>
<circle class="d" cx="1308" cy="429.5" r="1.9"/>
<circle class="d" cx="627.6" cy="373.9" r="1.9"/>
<circle class="d" cx="667.5" cy="397.54" r="1.9"/>
<circle class="d" cx="706.5" cy="397.54" r="1.9"/>
<circle class="d" cx="612" cy="405.9" r="1.9"/>
<circle class="d" cx="690.8" cy="461.22" r="1.9"/>
<circle class="d" cx="620.1" cy="453.5" r="1.9"/>
<circle class="d" cx="620.1" cy="493.06" r="1.9"/>
<circle class="d" cx="564.4" cy="525" r="1.9"/>
<circle class="d" cx="262.8" cy="525" r="1.9"/>
<circle class="d" cx="279" cy="525" r="1.9"/>
<circle class="d" cx="286.6" cy="525" r="1.9"/>
<circle class="d" cx="310.8" cy="525" r="1.9"/>
<circle class="d" cx="358.2" cy="525" r="1.9"/>
<circle class="d" cx="397.9" cy="525" r="1.9"/>
<circle class="d" cx="509" cy="525" r="1.9"/>
<circle class="d" cx="509.5" cy="445.6" r="1.4"/>
<circle class="d" cx="509.5" cy="508.8" r="1.4"/>
<circle class="d" cx="509.5" cy="542.2" r="1.4"/>
<circle class="d" cx="509.5" cy="605.4" r="1.4"/>
<circle class="d" cx="509" cy="636.4" r="1.9"/>
<circle class="d" cx="509" cy="660.9" r="1.9"/>
<circle class="d" cx="239.2" cy="525" r="1.9"/>
<circle class="d" cx="239.2" cy="660.9" r="1.9"/>
<circle class="d" cx="279.2" cy="565" r="1.3"/>
<circle class="d" cx="279.2" cy="581.2" r="1.3"/>
<circle class="d" cx="279.2" cy="589" r="1.3"/>
<circle class="d" cx="279" cy="660.9" r="1.9"/>
<circle class="d" cx="310.8" cy="660.9" r="1.9"/>
<circle class="d" cx="358.2" cy="660.9" r="1.9"/>
<circle class="d" cx="397.6" cy="660.9" r="1.9"/>
<circle class="d" cx="770.2" cy="620.3" r="1.9"/>
<circle class="d" cx="841.8" cy="294.4" r="1.9"/>
<circle class="d" cx="920.9" cy="294.4" r="1.9"/>
<circle class="d" cx="920.9" cy="349.6" r="1.9"/>
<circle class="d" cx="920.9" cy="429.5" r="1.9"/>
<circle class="d" cx="841.7" cy="493.06" r="1.9"/>
<circle class="d" cx="873.4" cy="493.06" r="1.9"/>
<circle class="d" cx="841.7" cy="708.1" r="1.5"/>
<circle class="d" cx="873.4" cy="501.2" r="1.9"/>
<circle class="d" cx="905.1" cy="508.98" r="1.9"/>
<circle class="d" cx="905.1" cy="565.1" r="1.9"/>
<circle class="d" cx="905.1" cy="620.3" r="1.9"/>
<circle class="d" cx="944.5" cy="620.3" r="1.9"/>
<circle class="d" cx="984.8" cy="524.9" r="1.9"/>
<circle class="d" cx="1048" cy="341.2" r="1.6"/>
<circle class="d" cx="1048" cy="406.2" r="1.6"/>
<circle class="d" cx="1038.7" cy="406.2" r="1.3"/>
<circle class="d" cx="1048" cy="437.1" r="1.6"/>
<circle class="d" cx="1048" cy="502.1" r="1.6"/>
<circle class="d" cx="1038.7" cy="502.1" r="1.3"/>
<circle class="d" cx="1048" cy="429.38" r="1.9"/>
<circle class="d" cx="1048" cy="549.1" r="1.9"/>
<circle class="d" cx="1048" cy="532.5" r="1.9"/>
<circle class="d" cx="1181.5" cy="429.38" r="1.9"/>
<circle class="d" cx="1181.5" cy="549.1" r="1.9"/>
<circle class="d" cx="1229.2" cy="429.38" r="1.9"/>
<circle class="d" cx="1229.2" cy="549.1" r="1.9"/>
<circle class="d" cx="1260.5" cy="429.38" r="1.9"/>
<circle class="d" cx="1260.5" cy="549.1" r="1.9"/>
<circle class="d" cx="1292.3" cy="429.38" r="1.9"/>
<circle class="d" cx="1340.1" cy="429.38" r="1.9"/>
<circle class="d" cx="1308" cy="549.1" r="1.9"/>
<circle class="d" cx="1340.1" cy="549.1" r="1.9"/>
<circle class="d" cx="1308" cy="636.5" r="1.9"/>
<circle class="d" cx="1308.1" cy="453.4" r="1.3"/>
<circle class="d" cx="1308.1" cy="469.6" r="1.3"/>
<circle class="d" cx="1308.1" cy="477.5" r="1.3"/>
<circle class="d" cx="1332.5" cy="636.5" r="1.9"/>
</g>
</svg></body></html>
